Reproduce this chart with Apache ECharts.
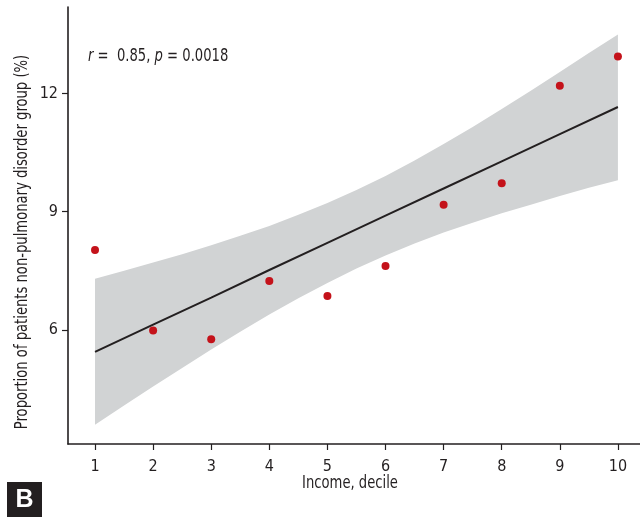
<!DOCTYPE html>
<html>
<head>
<meta charset="utf-8">
<script src="https://cdn.jsdelivr.net/npm/echarts@6/dist/echarts.min.js"></script>
<style>html,body{margin:0;padding:0;background:#fff}#c{width:640px;height:520px}</style>
</head>
<body>
<div id="c"></div>
<script>
const deciles = [1, 2, 3, 4, 5, 6, 7, 8, 9, 10];
const proportion = [8.03, 5.98, 5.76, 7.24, 6.86, 7.62, 9.18, 9.72, 12.2, 12.94];
const fitLine = [5.44, 6.13, 6.82, 7.52, 8.21, 8.90, 9.59, 10.28, 10.97, 11.66];
const bandX = [1, 1.5, 2, 2.5, 3, 3.5, 4, 4.5, 5, 5.5, 6, 6.5, 7, 7.5, 8, 8.5, 9, 9.5, 10];
const ciUpper = [7.30, 7.50, 7.71, 7.92, 8.15, 8.39, 8.64, 8.92, 9.22, 9.55, 9.91, 10.30, 10.72, 11.15, 11.61, 12.07, 12.55, 13.03, 13.50];
const ciLower = [3.59, 4.08, 4.56, 5.03, 5.50, 5.95, 6.39, 6.80, 7.19, 7.56, 7.89, 8.19, 8.47, 8.72, 8.96, 9.18, 9.40, 9.61, 9.80];
const xTicks = [1, 2, 3, 4, 5, 6, 7, 8, 9, 10];
const yTicks = [6, 9, 12];

const FONT = "'Liberation Sans Narrow', 'DejaVu Sans Condensed', sans-serif";
const INK = '#231f20';

const chart = echarts.init(document.getElementById('c'));
chart.setOption({
  animation: false,
  grid: { left: 68, top: 7, right: 0, bottom: 76 },
  xAxis: {
    type: 'value', min: 0.535, max: 10.38,
    axisLine: { show: true, lineStyle: { color: INK, width: 1.6 } },
    axisTick: { show: true, customValues: xTicks, length: 6, lineStyle: { color: INK, width: 1.2 } },
    axisLabel: { customValues: xTicks, color: INK, fontSize: 16, fontFamily: FONT, margin: 15 },
    splitLine: { show: false }
  },
  yAxis: {
    type: 'value', min: 3.10, max: 14.2,
    axisLine: { show: true, lineStyle: { color: INK, width: 1.6 } },
    axisTick: { show: true, customValues: yTicks, length: 6, lineStyle: { color: INK, width: 1.2 } },
    axisLabel: { customValues: yTicks, color: INK, fontSize: 16, fontFamily: FONT, margin: 10 },
    splitLine: { show: false }
  },
  series: [
    {
      type: 'custom', silent: true, z: 1,
      data: [0],
      renderItem: function (params, api) {
        const pts = [];
        for (let i = 0; i < bandX.length; i++) pts.push(api.coord([bandX[i], ciUpper[i]]));
        for (let i = bandX.length - 1; i >= 0; i--) pts.push(api.coord([bandX[i], ciLower[i]]));
        return {
          type: 'polygon',
          shape: { points: pts },
          style: { fill: '#d1d3d4', stroke: null }
        };
      }
    },
    {
      type: 'line', symbol: 'none', silent: true, z: 3,
      data: deciles.map((x, i) => [x, fitLine[i]]),
      lineStyle: { color: INK, width: 2 }
    },
    {
      type: 'scatter', symbolSize: 8, z: 4,
      data: deciles.map((x, i) => [x, proportion[i]]),
      itemStyle: { color: '#c4121a', opacity: 1 }
    }
  ],
  graphic: [
    {
      type: 'text', x: 88, y: 57, scaleX: 0.86,
      style: {
        text: '{i|r} =  0.85, {i|p} = 0.0018',
        fill: INK, font: "17px " + FONT, verticalAlign: 'middle',
        rich: { i: { fontStyle: 'italic', fontSize: 17, fontFamily: FONT, fill: INK } }
      }
    },
    {
      type: 'text', x: 23, y: 242, rotation: Math.PI / 2, scaleX: 0.86,
      style: {
        text: 'Proportion of patients non-pulmonary disorder group (%)',
        fill: INK, font: "17px " + FONT, align: 'center', verticalAlign: 'middle'
      }
    },
    {
      type: 'text', x: 350, y: 484, scaleX: 0.86,
      style: {
        text: 'Income, decile',
        fill: INK, font: "17px " + FONT, align: 'center', verticalAlign: 'middle'
      }
    },
    {
      type: 'rect', shape: { x: 7, y: 482, width: 35, height: 35 },
      style: { fill: INK }
    },
    {
      type: 'text', x: 24.5, y: 500,
      style: {
        text: 'B', fill: '#fff', font: "bold 25px 'Liberation Sans', sans-serif",
        align: 'center', verticalAlign: 'middle'
      }
    }
  ]
});
</script>
</body>
</html>
